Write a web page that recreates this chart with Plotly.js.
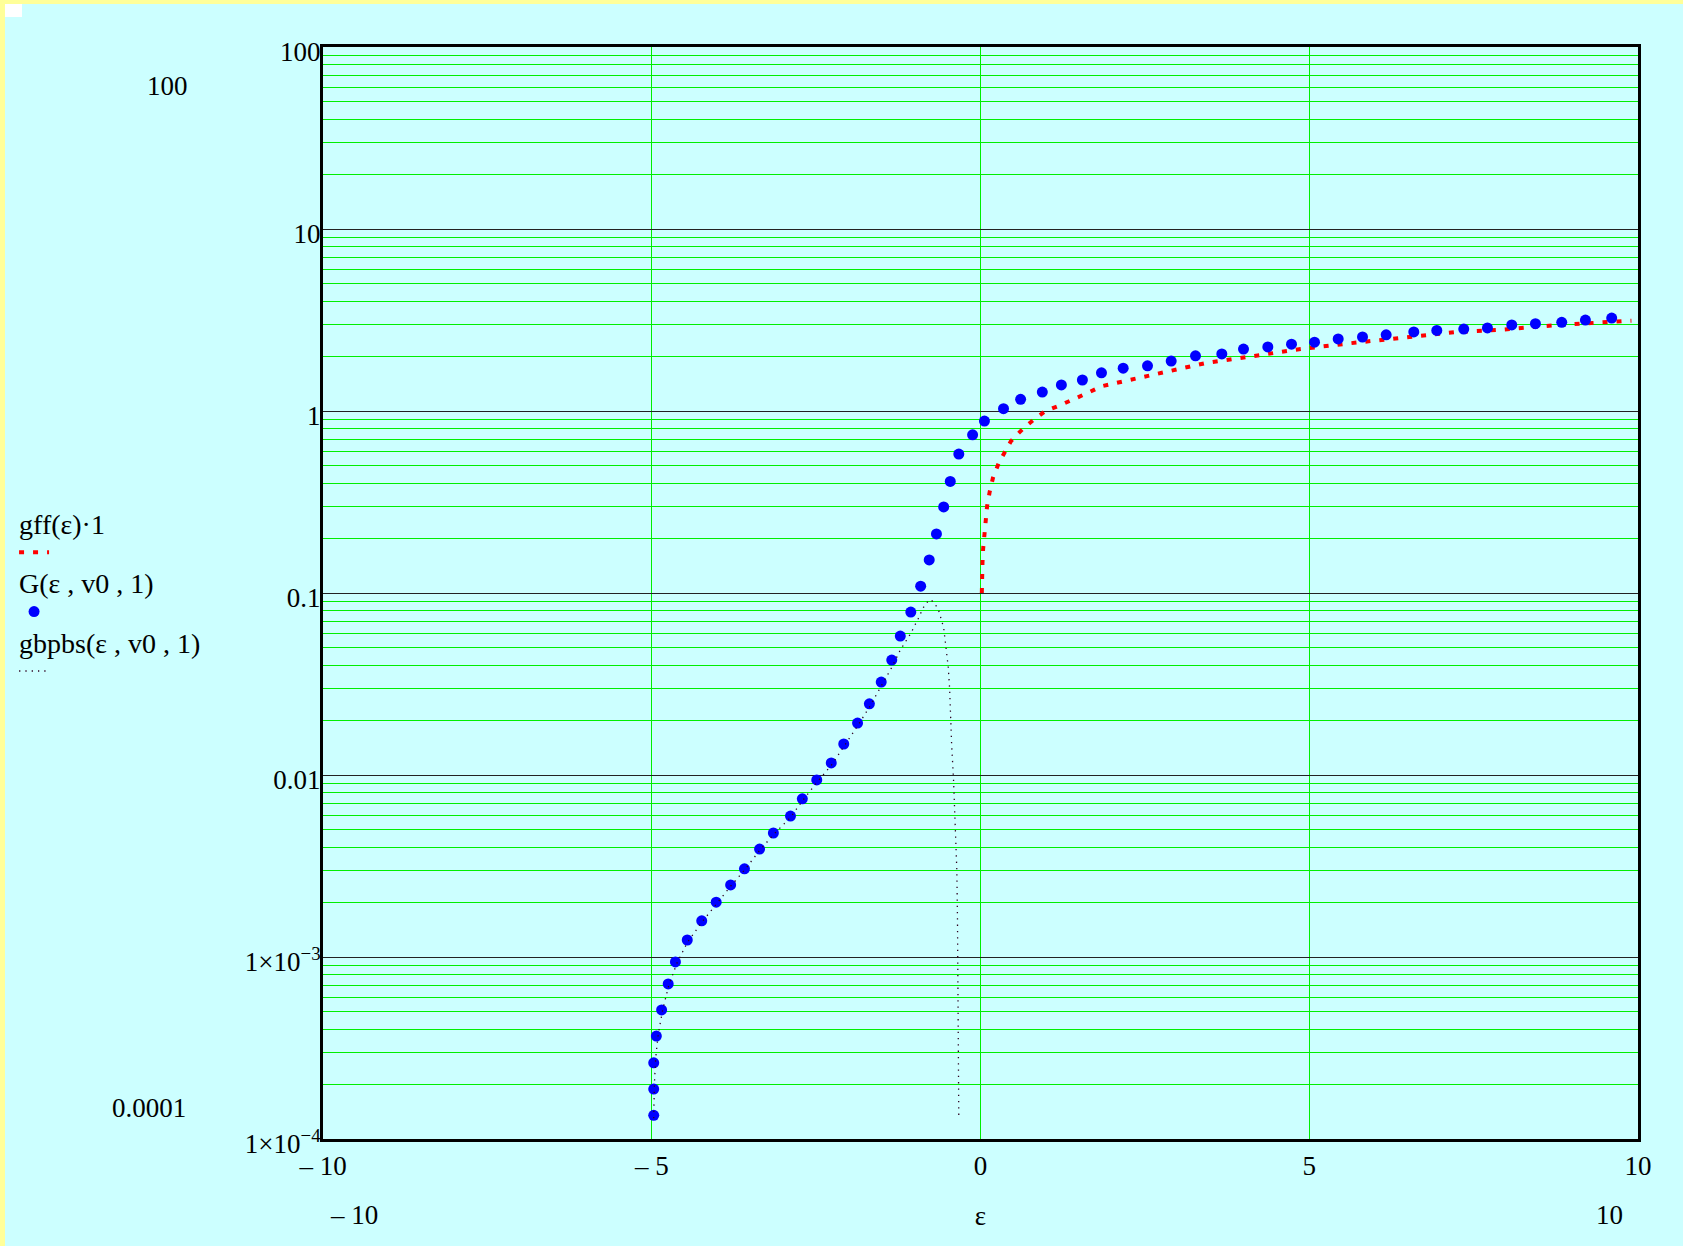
<!DOCTYPE html>
<html>
<head>
<meta charset="utf-8">
<script src="https://cdn.plot.ly/plotly-3.0.1.min.js"></script>
<style>
  html, body { margin: 0; padding: 0; background: #ffff99; width: 1683px; height: 1246px; overflow: hidden; }
  #chart { position: absolute; left: 5px; top: 4px; width: 1678px; height: 1242px; }
  #corner { position: absolute; left: 5px; top: 4px; width: 17px; height: 13px; background: #ffffff; z-index: 10; }
</style>
</head>
<body>
<div id="chart"></div>
<div id="corner"></div>
<script>
// ---- data ----
const seriesNames = ["gff(ε)·1", "G(ε , v0 , 1)", "gbpbs(ε , v0 , 1)"];

// gff(ε)·1  (red dotted)
const gffX = [0.02, 0.02, 0.03, 0.04, 0.06, 0.08, 0.10, 0.14, 0.19, 0.28, 0.37, 0.46, 0.57, 0.68, 0.85, 0.99,
              1.17, 1.40, 1.55, 1.85, 2.27, 2.84, 3.44, 4.05, 4.87, 5.64, 6.45, 7.25, 7.89, 8.79, 9.79, 9.9];
const gffY = [0.1, 0.121, 0.146, 0.175, 0.209, 0.25, 0.30, 0.36, 0.43, 0.52, 0.60, 0.68, 0.75, 0.82, 0.92, 1.0,
              1.06, 1.15, 1.22, 1.37, 1.48, 1.66, 1.84, 1.98, 2.19, 2.36, 2.55, 2.72, 2.79, 2.97, 3.12, 3.13];

// G(ε, v0, 1)  (blue points)
const gX = [-4.97, -4.97, -4.97, -4.93, -4.85, -4.75, -4.64, -4.46, -4.24, -4.02, -3.80, -3.59, -3.36, -3.15,
            -2.89, -2.71, -2.49, -2.27, -2.08, -1.87, -1.69, -1.51, -1.35, -1.22, -1.06, -0.91, -0.78, -0.67,
            -0.56, -0.46, -0.33, -0.12, 0.06, 0.35, 0.61, 0.94, 1.23, 1.55, 1.84, 2.17, 2.54, 2.90, 3.27, 3.67,
            4.00, 4.37, 4.73, 5.08, 5.44, 5.81, 6.17, 6.59, 6.94, 7.35, 7.71, 8.08, 8.44, 8.84, 9.20, 9.60];
const gY = [1.35e-4, 1.88e-4, 2.62e-4, 3.68e-4, 5.12e-4, 7.11e-4, 9.4e-4, 1.24e-3, 1.58e-3, 2.0e-3, 2.49e-3,
            3.05e-3, 3.92e-3, 4.8e-3, 5.95e-3, 7.4e-3, 9.4e-3, 0.01165, 0.0148, 0.0193, 0.0246, 0.0324, 0.0428,
            0.058, 0.0786, 0.109, 0.152, 0.211, 0.297, 0.41, 0.58, 0.74, 0.88, 1.03, 1.16, 1.27, 1.39, 1.48,
            1.62, 1.72, 1.77, 1.88, 2.01, 2.06, 2.19, 2.25, 2.33, 2.39, 2.49, 2.55, 2.62, 2.72, 2.77, 2.82,
            2.86, 2.97, 3.02, 3.07, 3.16, 3.24];

// gbpbs(ε, v0, 1)  (fine dotted)
const bX = [-4.97, -4.96, -4.94, -4.90, -4.83, -4.74, -4.62, -4.46, -4.24, -4.02, -3.80, -3.59, -3.36, -3.15,
            -2.89, -2.71, -2.49, -2.27, -2.08, -1.87, -1.69, -1.51, -1.35, -1.22, -1.06, -0.95, -0.87, -0.80,
            -0.76, -0.70, -0.64, -0.56, -0.52, -0.49, -0.47, -0.46, -0.44, -0.41, -0.38, -0.36, -0.35, -0.34,
            -0.335, -0.33];
const bY = [1.3e-4, 2.0e-4, 2.8e-4, 3.8e-4, 5.2e-4, 7.0e-4, 9.2e-4, 1.2e-3, 1.55e-3, 1.95e-3, 2.45e-3, 3.0e-3,
            3.85e-3, 4.7e-3, 5.85e-3, 7.2e-3, 9.1e-3, 0.0113, 0.0143, 0.0186, 0.0236, 0.0305, 0.039, 0.0486,
            0.060, 0.072, 0.083, 0.090, 0.092, 0.088, 0.081, 0.0645, 0.050, 0.039, 0.030, 0.022, 0.015, 0.0094,
            0.0053, 0.0030, 0.0016, 5.6e-4, 2.96e-4, 1.3e-4];

// axis ticks
const xTickVals = [-10, -5, 0, 5, 10];
const xTickText = ["– 10", "– 5", "0", "5", "10"];
const yTickVals = [1e-4, 1e-3, 0.01, 0.1, 1, 10, 100];
const yTickText = ["1×10<sup>−4</sup>", "1×10<sup>−3</sup>", "0.01", "0.1", "1", "10", "100"];
const xLimits = ["– 10", "10"];
const yLimits = ["100", "0.0001"];
const xLabel = "ε";

// ---- drawing ----
const FONT = "Liberation Serif, Times New Roman, serif";
const FS = 27;

function groupTitle(t) { return { text: t, font: { family: FONT, size: 28, color: "#000" } }; }

const traces = [
  { x: gffX, y: gffY, name: "", legendgroup: "g1", legendgrouptitle: groupTitle(seriesNames[0]),
    type: "scatter", mode: "lines", line: { color: "#ff0000", width: 4, dash: "5px,9px" } },
  { x: gX, y: gY, name: "", legendgroup: "g2", legendgrouptitle: groupTitle(seriesNames[1]),
    type: "scatter", mode: "markers", marker: { color: "#0000ff", size: 11 } },
  { x: bX, y: bY, name: "", legendgroup: "g3", legendgrouptitle: groupTitle(seriesNames[2]),
    type: "scatter", mode: "lines", line: { color: "#300020", width: 1.3, dash: "1.3px,5px" } }
];

const layout = {
  width: 1678, height: 1242,
  paper_bgcolor: "#ccffff", plot_bgcolor: "#ccffff",
  margin: { l: 318, r: 45, t: 43, b: 107 },
  font: { family: FONT, size: FS, color: "#000" },
  showlegend: true,
  legend: {
    xref: "container", yref: "container", x: 0.0054, xanchor: "left", y: 0.602, yanchor: "top",
    bgcolor: "rgba(0,0,0,0)", borderwidth: 0, traceorder: "grouped",
    font: { family: FONT, size: 12, color: "#000" }, tracegroupgap: 1
  },
  xaxis: {
    range: [-10, 10], tickmode: "array", tickvals: xTickVals, ticktext: xTickText,
    showgrid: true, gridcolor: "#00ee00", gridwidth: 1, zeroline: false,
    showline: true, mirror: true, linecolor: "#000", linewidth: 3,
    ticks: "", ticklabelstandoff: 1,
    tickfont: { family: FONT, size: FS },
    title: { text: xLabel, font: { family: FONT, size: FS }, standoff: 26 }
  },
  yaxis: {
    type: "log", range: [-4, 2], tickmode: "array", tickvals: yTickVals, ticktext: yTickText,
    showgrid: true, gridcolor: "#222222", gridwidth: 1, zeroline: false,
    showline: true, mirror: true, linecolor: "#000", linewidth: 3,
    ticks: "", ticklabelshift: 5, ticklabelstandoff: -6,
    tickfont: { family: FONT, size: FS },
    minor: { dtick: "D1", showgrid: true, gridcolor: "#00ee00", gridwidth: 1, ticks: "" }
  },
  annotations: [
    { xref: "paper", yref: "paper", x: -0.118, y: 0.964, text: yLimits[0], showarrow: false,
      xanchor: "center", yanchor: "middle", font: { family: FONT, size: FS } },
    { xref: "paper", yref: "paper", x: -0.132, y: 0.028, text: yLimits[1], showarrow: false,
      xanchor: "center", yanchor: "middle", font: { family: FONT, size: FS } },
    { xref: "paper", yref: "paper", x: 0.0236, y: -0.0696, text: xLimits[0], showarrow: false,
      xanchor: "center", yanchor: "middle", font: { family: FONT, size: FS } },
    { xref: "paper", yref: "paper", x: 0.978, y: -0.0696, text: xLimits[1], showarrow: false,
      xanchor: "center", yanchor: "middle", font: { family: FONT, size: FS } }
  ]
};

Plotly.newPlot("chart", traces, layout, { displayModeBar: false, staticPlot: true });
</script>
</body>
</html>
